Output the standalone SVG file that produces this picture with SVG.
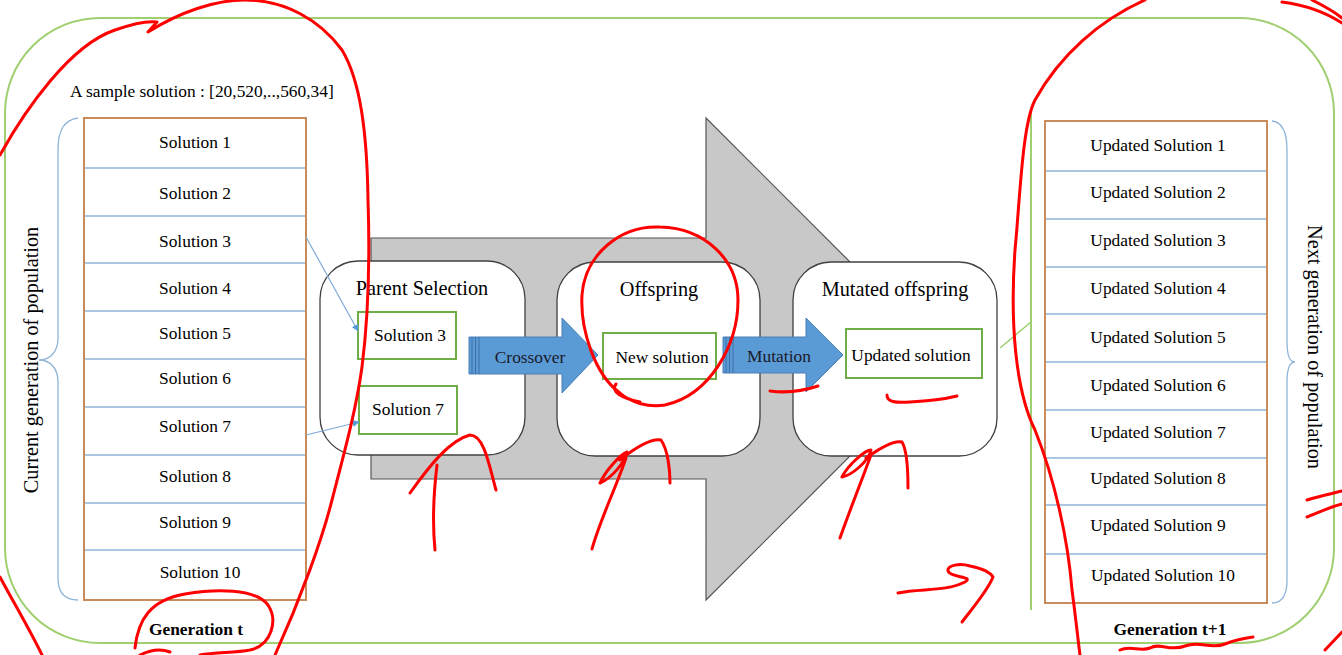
<svg xmlns="http://www.w3.org/2000/svg" width="1342" height="655" viewBox="0 0 1342 655">
<style>
text{font-family:"Liberation Serif","Times New Roman",serif;fill:#000}
.s17{font-size:17.4px}
.s20{font-size:20.3px}
.b{font-weight:bold}
.row{stroke:#8fb4d9;stroke-width:1.3}
.tbl{fill:#fff;stroke:#c98b5a;stroke-width:2}
.gbox{fill:#fff;stroke:#70ad47;stroke-width:2}
.rbox{fill:#fff;stroke:#404040;stroke-width:1.3}
.barrow{fill:#5b9bd5;stroke:#4a7fb8;stroke-width:1}
.stripe{stroke:#3f6fa8;stroke-width:1}
.red{fill:none;stroke:#f00;stroke-width:3;stroke-linecap:round;stroke-linejoin:round}
.conn{fill:none;stroke:#7faad8;stroke-width:1.2}
</style>
<defs>
<marker id="ah" viewBox="0 0 10 10" refX="9" refY="5" markerWidth="7" markerHeight="7" orient="auto" markerUnits="userSpaceOnUse">
<path d="M0,0 L10,5 L0,10 z" fill="#5b9bd5"/>
</marker>
</defs>
<rect width="1342" height="655" fill="#fff"/>
<g id="frame">
<rect x="5" y="18" width="1329" height="625" rx="95" ry="95" fill="none" stroke="#9fcf6f" stroke-width="2"/>
<line x1="1031" y1="110" x2="1031" y2="610" stroke="#9fcf6f" stroke-width="2"/>
<line x1="1000" y1="348" x2="1031" y2="322" stroke="#9fcf6f" stroke-width="1.5"/>
</g>
<g id="bigArrow">
<polygon points="371,238 706,238 706,118 947,359 706,600 706,479 371,479" fill="#c8c8c8" stroke="#555" stroke-width="1.2"/>
</g>
<g id="currentPopulation">
<text x="70" y="97" class="s17">A sample solution : [20,520,..,560,34]</text>
<path d="M78,118 C64,120 58,130 58,150 L58,338 C58,352 50,360 39,360 C50,360 58,368 58,382 L58,578 C58,592 64,600 78,600" fill="none" stroke="#8fb4d9" stroke-width="1.3"/>
<text transform="translate(38,360) rotate(-90)" text-anchor="middle" class="s20">Current generation of population</text>
<rect x="84" y="118" width="222" height="482" class="tbl"/>
<g class="row">
<line x1="85" y1="168" x2="305" y2="168"/><line x1="85" y1="216" x2="305" y2="216"/><line x1="85" y1="263" x2="305" y2="263"/><line x1="85" y1="311" x2="305" y2="311"/><line x1="85" y1="359" x2="305" y2="359"/><line x1="85" y1="407" x2="305" y2="407"/><line x1="85" y1="455" x2="305" y2="455"/><line x1="85" y1="503" x2="305" y2="503"/><line x1="85" y1="550" x2="305" y2="550"/>
</g>
<g class="s17" text-anchor="middle" dominant-baseline="central">
<text x="195" y="142">Solution 1</text>
<text x="195" y="193">Solution 2</text>
<text x="195" y="241">Solution 3</text>
<text x="195" y="288">Solution 4</text>
<text x="195" y="333">Solution 5</text>
<text x="195" y="378">Solution 6</text>
<text x="195" y="426">Solution 7</text>
<text x="195" y="476">Solution 8</text>
<text x="195" y="522">Solution 9</text>
<text x="200" y="572">Solution 10</text>
</g>
<text x="196" y="635" text-anchor="middle" class="s17 b">Generation t</text>
</g>
<g id="parentSelection">
<rect x="320" y="261" width="205" height="194" rx="38" class="rbox"/>
<text x="422" y="295" text-anchor="middle" class="s20">Parent Selection</text>
<rect x="358" y="312" width="98" height="47" class="gbox"/>
<text x="410" y="335" text-anchor="middle" dominant-baseline="central" class="s17">Solution 3</text>
<rect x="359" y="386" width="98" height="48" class="gbox"/>
<text x="408" y="409" text-anchor="middle" dominant-baseline="central" class="s17">Solution 7</text>
</g>
<g id="offspring">
<rect x="557" y="262" width="203" height="194" rx="38" class="rbox"/>
<text x="659" y="296" text-anchor="middle" class="s20">Offspring</text>
<rect x="603" y="333" width="113" height="46" class="gbox"/>
<text x="662" y="357" text-anchor="middle" dominant-baseline="central" class="s17">New solution</text>
</g>
<g id="mutatedOffspring">
<rect x="793" y="262" width="204" height="194" rx="38" class="rbox"/>
<text x="895" y="296" text-anchor="middle" class="s20">Mutated offspring</text>
<rect x="846" y="329" width="136" height="49" class="gbox"/>
<text x="911" y="355" text-anchor="middle" dominant-baseline="central" class="s17">Updated solution</text>
</g>
<g id="crossover">
<polygon points="469,337 562,337 562,318 598,355 562,393 562,374 469,374" class="barrow"/>
<line x1="472" y1="337" x2="472" y2="374" class="stripe"/><line x1="475.5" y1="337" x2="475.5" y2="374" class="stripe"/><line x1="479" y1="337" x2="479" y2="374" class="stripe"/>
<text x="530" y="357" text-anchor="middle" dominant-baseline="central" class="s17" style="fill:#1a1a2a">Crossover</text>
</g>
<g id="mutation">
<polygon points="723,337 806,337 806,318 843,355 806,392 806,373 723,373" class="barrow"/>
<line x1="726" y1="337" x2="726" y2="373" class="stripe"/><line x1="729.5" y1="337" x2="729.5" y2="373" class="stripe"/><line x1="733" y1="337" x2="733" y2="373" class="stripe"/>
<text x="779" y="356" text-anchor="middle" dominant-baseline="central" class="s17" style="fill:#1a1a2a">Mutation</text>
</g>
<g id="connectors">
<line x1="306" y1="237" x2="358" y2="331" class="conn" marker-end="url(#ah)"/>
<line x1="306" y1="435" x2="359" y2="422" class="conn" marker-end="url(#ah)"/>
</g>
<g id="nextPopulation">
<rect x="1045" y="121" width="222" height="482" class="tbl"/>
<g class="row">
<line x1="1046" y1="171" x2="1266" y2="171"/><line x1="1046" y1="219" x2="1266" y2="219"/><line x1="1046" y1="267" x2="1266" y2="267"/><line x1="1046" y1="314" x2="1266" y2="314"/><line x1="1046" y1="362" x2="1266" y2="362"/><line x1="1046" y1="410" x2="1266" y2="410"/><line x1="1046" y1="458" x2="1266" y2="458"/><line x1="1046" y1="505" x2="1266" y2="505"/><line x1="1046" y1="554" x2="1266" y2="554"/>
</g>
<g class="s17" text-anchor="middle" dominant-baseline="central">
<text x="1158" y="145">Updated Solution 1</text>
<text x="1158" y="192">Updated Solution 2</text>
<text x="1158" y="240">Updated Solution 3</text>
<text x="1158" y="288">Updated Solution 4</text>
<text x="1158" y="337">Updated Solution 5</text>
<text x="1158" y="385">Updated Solution 6</text>
<text x="1158" y="432">Updated Solution 7</text>
<text x="1158" y="478">Updated Solution 8</text>
<text x="1158" y="525">Updated Solution 9</text>
<text x="1163" y="575">Updated Solution 10</text>
</g>
<path d="M1272,121 C1282,122 1287,132 1287,150 L1287,342 C1287,355 1290,362 1295,362 C1290,362 1287,369 1287,382 L1287,580 C1287,596 1282,603 1272,603" fill="none" stroke="#8fb4d9" stroke-width="1.3"/>
<text transform="translate(1308,347) rotate(90)" text-anchor="middle" class="s20">Next generation of population</text>
<text x="1170" y="635" text-anchor="middle" class="s17 b">Generation t+1</text>
</g>
<g id="annotations" class="red">
<path d="M0,155 C25,110 70,45 115,30 C135,23 150,21 157,22 L148,32 C180,12 215,0 245,0 C285,0 320,20 342,50 C360,80 367,130 368,200 C370,260 368,320 362,367 C356,410 345,450 332,500 C322,540 300,600 275,655"/>
<path d="M0,577 C15,605 30,630 42,655"/>
<path d="M135,648 C138,620 150,600 185,594 C215,589 255,588 268,605 C278,620 272,645 250,650 C235,653 215,652 200,655 M140,655 C150,650 160,648 170,652"/>
<path d="M640,402 C622,398 610,392 616,384 M620,393 C595,375 580,330 582,295 C585,255 620,225 660,227 C705,228 738,260 738,300 C738,345 710,395 665,405 C648,408 630,402 620,393"/>
<path d="M410,493 C430,465 450,440 470,435 C485,435 490,470 496,490 M435,550 C432,520 434,490 437,465"/>
<path d="M600,483 C606,470 620,455 627,452 C625,462 612,478 600,483 M620,460 C635,448 650,438 661,440 C668,450 670,470 670,483 M626,458 C615,490 600,520 592,549"/>
<path d="M842,477 C848,465 865,450 871,450 C868,462 852,475 842,477 M866,458 C880,448 895,440 902,442 C908,452 908,475 908,488 M871,455 C860,485 848,515 840,538"/>
<path d="M898,593 C920,588 945,592 965,582 C975,576 950,578 948,571 C947,565 960,563 970,566 C980,568 990,572 993,577 C988,590 975,605 962,622"/>
<path d="M770,391 C785,393 800,392 818,386"/>
<path d="M887,395 C887,402 895,403 910,402 C930,401 945,399 957,396"/>
<path d="M1145,0 C1100,20 1060,55 1035,100 C1022,125 1020,200 1015,250 C1010,320 1015,390 1035,430 C1055,480 1068,540 1072,590 C1076,620 1078,640 1080,655"/>
<path d="M1282,2 C1305,5 1325,12 1342,23 M1312,0 C1322,5 1332,10 1342,18"/>
<path d="M1307,500 C1320,496 1330,494 1342,491 M1307,517 C1320,512 1330,507 1342,504"/>
<path d="M1120,650 C1130,645 1140,652 1150,648 C1160,642 1170,652 1185,646 C1200,640 1210,650 1225,644 C1235,640 1245,638 1253,637 M1325,650 L1342,632"/>
</g>
</svg>
